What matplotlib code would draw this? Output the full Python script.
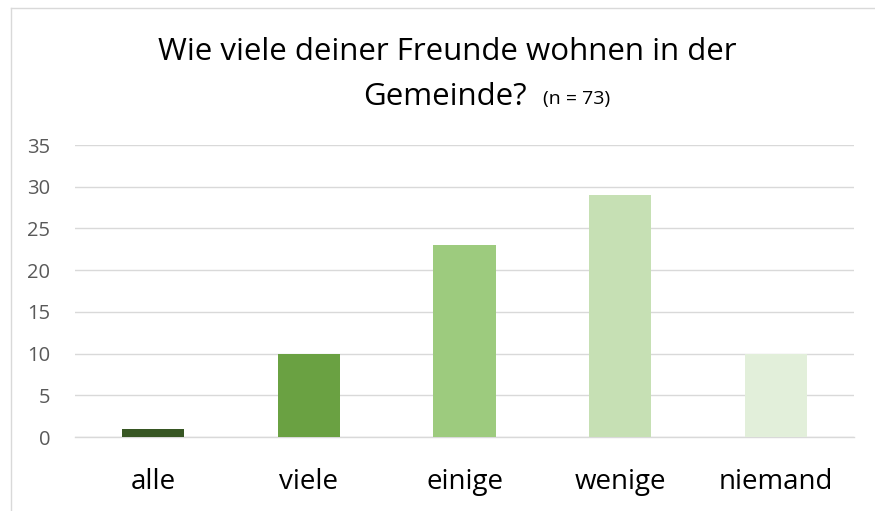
import matplotlib.pyplot as plt
from matplotlib.lines import Line2D

categories = ['alle', 'viele', 'einige', 'wenige', 'niemand']
counts = [1, 10, 23, 29, 10]
bar_colors = ['#375623', '#6AA142', '#9DCB7E', '#C6E0B4', '#E2EFDA']
y_ticks = [0, 5, 10, 15, 20, 25, 30, 35]

plt.rcParams['font.family'] = ['Open Sans', 'DejaVu Sans']

fig = plt.figure(figsize=(8.75, 5.11), dpi=100)
ax = fig.add_axes([75 / 875, 1 - 437 / 511, (854 - 75) / 875, (437 - 145) / 511])

x = range(len(categories))
ax.bar(x, counts, width=0.40, color=bar_colors, zorder=3)

ax.set_xlim(-0.5, len(categories) - 0.5)
ax.set_ylim(0, 35)
ax.set_yticks(y_ticks)
ax.set_xticks(list(x))
ax.set_xticklabels(categories, fontsize=20, color='#000000')
ax.tick_params(axis='y', labelsize=14.5, labelcolor='#595959', length=0, pad=18)
ax.tick_params(axis='x', length=0, pad=22)
ax.grid(axis='y', color='#D9D9D9', linewidth=1.0, zorder=0)
for side in ['top', 'right', 'left']:
    ax.spines[side].set_visible(False)
ax.spines['bottom'].set_color('#D9D9D9')
ax.spines['bottom'].set_linewidth(1.0)

# title in two lines, the sample size smaller
fig.text(447 / 875, 1 - 52 / 511, 'Wie viele deiner Freunde wohnen in der',
         fontsize=22.5, ha='center', va='center')
fig.text(527 / 875, 1 - 97 / 511, 'Gemeinde?', fontsize=22.5, ha='right', va='center')
fig.text(543 / 875, 1 - 99 / 511, '(n = 73)', fontsize=14, ha='left', va='center')

# chart frame (only top and left edge visible in the crop)
fig.add_artist(Line2D([11 / 875, 11 / 875], [0, 1 - 8 / 511], color='#D9D9D9', linewidth=1.0))
fig.add_artist(Line2D([11 / 875, 1], [1 - 8 / 511, 1 - 8 / 511], color='#D9D9D9', linewidth=1.0))

fig.savefig('out.png', dpi=100)
